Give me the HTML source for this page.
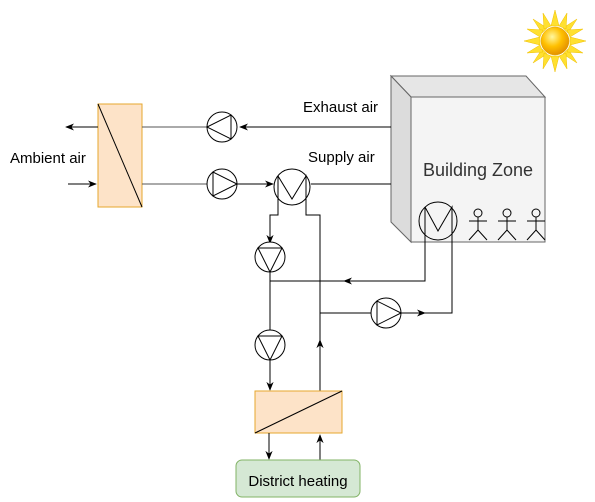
<!DOCTYPE html>
<html><head><style>body{margin:0;background:#fff}svg{display:block}text{font-family:"Liberation Sans",sans-serif}</style></head><body>
<svg width="595" height="502" viewBox="0 0 595 502" xmlns="http://www.w3.org/2000/svg">
<defs>
<marker id="a" viewBox="0 0 10 10" refX="9" refY="5" markerWidth="9" markerHeight="9" orient="auto-start-reverse"><path d="M0,1 L10,5 L0,9 L3,5 z" fill="#000"/></marker>
<radialGradient id="sg" cx="0.4" cy="0.35" r="0.7"><stop offset="0" stop-color="#fff7a0"/><stop offset="0.5" stop-color="#ffc000"/><stop offset="1" stop-color="#e08a00"/></radialGradient>
</defs>
<g transform="translate(555,41)">
<g fill="#ffe030" stroke="#f0c000" stroke-width="0.5">
<polygon points="0,-31 4,-15 -4,-15"/><polygon points="0,31 4,15 -4,15"/><polygon points="-31,0 -15,4 -15,-4"/><polygon points="31,0 15,4 15,-4"/>
<polygon points="22,-22 13,-8 8,-13"/><polygon points="-22,22 -13,8 -8,13"/><polygon points="-22,-22 -13,-8 -8,-13"/><polygon points="22,22 13,8 8,13"/>
<polygon points="12,-28 11,-12 4,-15" /><polygon points="-12,28 -11,12 -4,15"/><polygon points="-12,-28 -11,-12 -4,-15"/><polygon points="12,28 11,12 4,15"/>
<polygon points="28,-12 12,-11 15,-4"/><polygon points="-28,12 -12,11 -15,4"/><polygon points="-28,-12 -12,-11 -15,-4"/><polygon points="28,12 12,11 15,4"/>
</g>
<circle r="14" fill="url(#sg)" stroke="#e0a000" stroke-width="0.5"/>
</g>
<polygon points="391,76 526,76 545,97 411,97" fill="#e6e6e6" stroke="#666" stroke-width="1"/>
<polygon points="391,76 411,97 411,242 391,222" fill="#dcdcdc" stroke="#666" stroke-width="1"/>
<rect x="411" y="97" width="134" height="145" fill="#f4f4f4" stroke="#666" stroke-width="1"/>
<text x="478" y="176" font-size="18" fill="#333" text-anchor="middle">Building Zone</text>
<g stroke="#000" stroke-width="1" fill="none">
<circle cx="438" cy="221" r="19" fill="#f4f4f4"/>
<polyline points="425,244 425,207 438,231 452,207 452,244"/>
<g id="p"><circle cx="478" cy="213" r="4"/><line x1="469" y1="221" x2="487" y2="221"/><line x1="478" y1="217" x2="478" y2="230"/><polyline points="469,240 478,230 487,240"/></g>
<use href="#p" x="29"/><use href="#p" x="58"/>
<rect x="98" y="104" width="44" height="103" fill="#fde3c8" stroke="#e6a72e"/>
<line x1="98" y1="104" x2="142" y2="207"/>
<line x1="391" y1="127" x2="240" y2="127" marker-end="url(#a)"/>
<line x1="207" y1="127" x2="142" y2="127" stroke="#555"/>
<line x1="98" y1="127" x2="66" y2="127" marker-end="url(#a)"/>
<circle cx="222" cy="127" r="15" fill="#fff"/><polygon points="231,115 231,139 207,127"/>
<line x1="68" y1="184" x2="96" y2="184" marker-end="url(#a)"/>
<line x1="142" y1="184" x2="207" y2="184" stroke="#555"/>
<circle cx="222" cy="184" r="15" fill="#fff"/><polygon points="213,172 213,196 237,184"/>
<line x1="237" y1="184" x2="273" y2="184" marker-end="url(#a)"/>
<line x1="311" y1="184" x2="391" y2="184"/>
<circle cx="292" cy="187" r="18"/>
<polyline points="278,176 278,215 270,215 270,230"/><line x1="270" y1="228" x2="270" y2="243" marker-end="url(#a)"/>
<polyline points="278,176 292,199 306,176 306,215 320,215 320,391"/>
<circle cx="270" cy="257" r="15" fill="#fff"/><polygon points="258,248 282,248 270,272"/>
<line x1="270" y1="272" x2="270" y2="330"/>
<circle cx="270" cy="345" r="15" fill="#fff"/><polygon points="258,336 282,336 270,360"/>
<line x1="270" y1="360" x2="270" y2="390" marker-end="url(#a)"/>
<polyline points="425,244 425,281 270,281"/>
<line x1="360" y1="281" x2="344" y2="281" marker-end="url(#a)"/>
<line x1="320" y1="313" x2="371" y2="313"/>
<circle cx="386" cy="313" r="15" fill="#fff"/><polygon points="377,301 377,325 401,313"/>
<line x1="401" y1="313" x2="425" y2="313" marker-end="url(#a)"/>
<polyline points="420,313 452,313 452,244"/>
<line x1="320" y1="360" x2="320" y2="340" marker-end="url(#a)"/>
<rect x="255" y="391" width="87" height="42" fill="#fde3c8" stroke="#e6a72e"/>
<line x1="255" y1="433" x2="342" y2="391"/>
<line x1="269" y1="433" x2="269" y2="459" marker-end="url(#a)"/>
<line x1="320" y1="460" x2="320" y2="435" marker-end="url(#a)"/>
</g>
<rect x="236" y="460" width="124" height="37" rx="6" fill="#d5e8d4" stroke="#82b366"/>
<text x="298" y="486" font-size="15" text-anchor="middle">District heating</text>
<text x="303" y="112" font-size="15">Exhaust air</text>
<text x="308" y="162" font-size="15">Supply  air</text>
<text x="10" y="163" font-size="15">Ambient air</text>
</svg>
</body></html>
